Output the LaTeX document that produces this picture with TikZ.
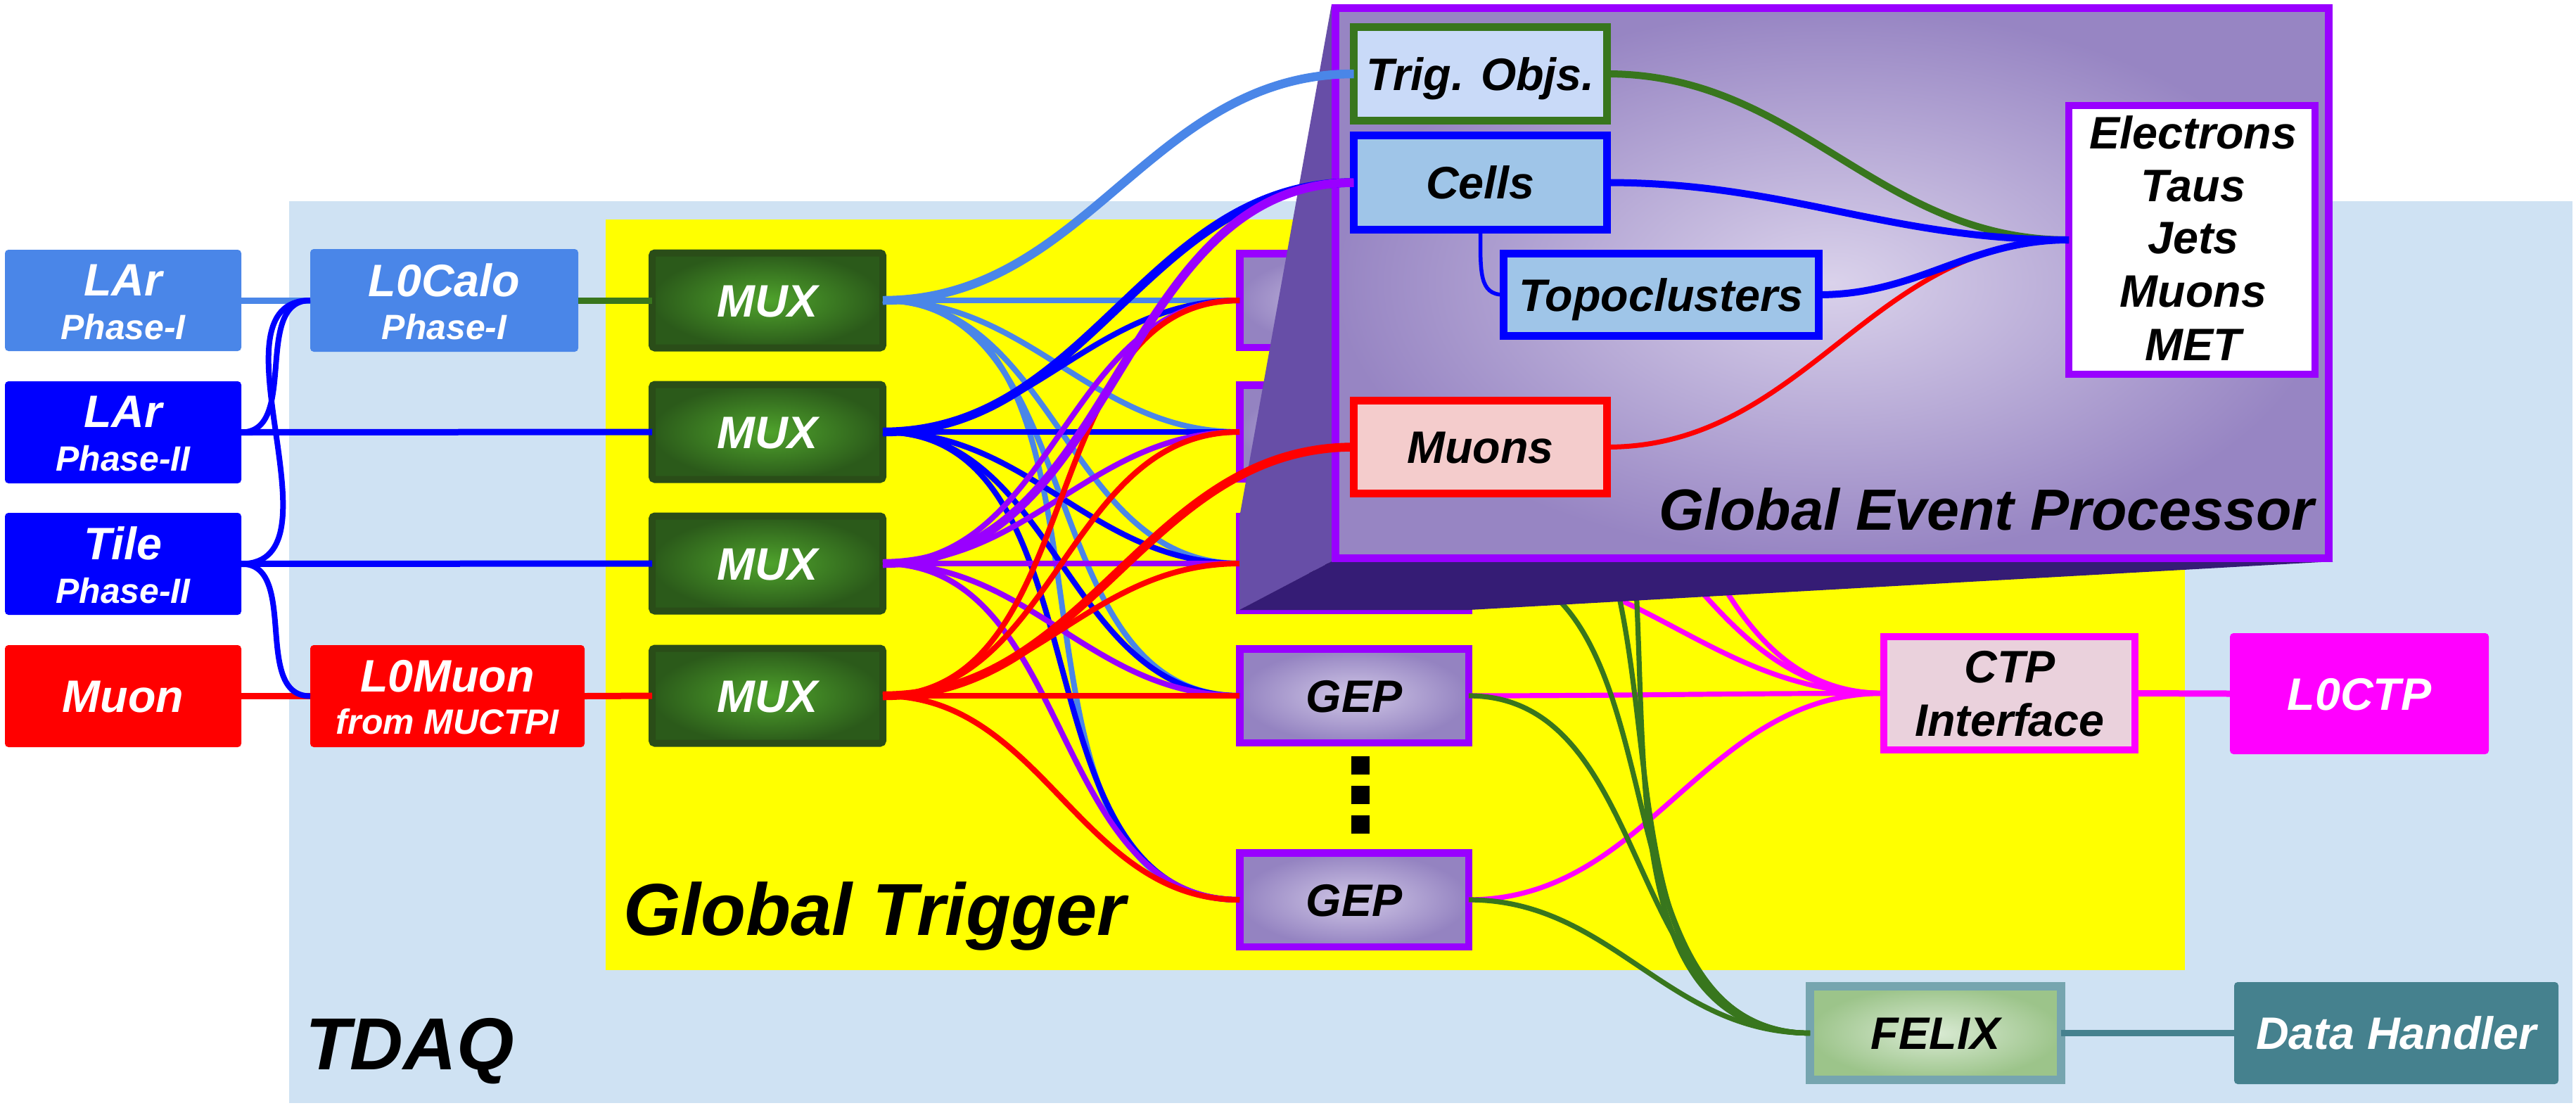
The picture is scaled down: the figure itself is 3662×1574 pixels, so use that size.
\documentclass[tikz,border=0pt]{standalone}
\usepackage{fontspec}
\setmainfont{Liberation Sans}
\newcommand\FntBig{\fontsize{18.4pt}{20pt}\selectfont\bfseries\itshape}
\newcommand\FntSmall{\fontsize{14.2pt}{16pt}\selectfont\bfseries\itshape}
\newcommand\FntHuge{\fontsize{29.8pt}{32pt}\selectfont\bfseries\itshape}
\newcommand\FntTitle{\fontsize{23.5pt}{26pt}\selectfont\bfseries\itshape}
\definecolor{cLB}{HTML}{4A86E8}
\definecolor{cB}{HTML}{0000FF}
\definecolor{cR}{HTML}{FF0000}
\definecolor{cV}{HTML}{9900FF}
\definecolor{cM}{HTML}{FF00FF}
\definecolor{cG}{HTML}{38761D}
\definecolor{cTDAQ}{HTML}{CFE2F3}
\definecolor{cY}{HTML}{FFFF00}
\definecolor{cTeal}{HTML}{45818E}
\definecolor{cFelixB}{HTML}{76A5AF}
\definecolor{cFelixIn}{HTML}{D9EAD3}
\definecolor{cFelixOut}{HTML}{9CC48A}
\definecolor{cMuxB}{HTML}{2A4D18}
\definecolor{cMuxIn}{HTML}{4FA32C}
\definecolor{cMuxOut}{HTML}{2B5A1A}
\definecolor{cGepIn}{HTML}{D0C7E6}
\definecolor{cGepOut}{HTML}{9483C1}
\definecolor{cFrontIn}{HTML}{DAD2EB}
\definecolor{cFrontOut}{HTML}{9785C3}
\definecolor{cSide}{HTML}{674EA7}
\definecolor{cBottom}{HTML}{351C75}
\definecolor{cTrigF}{HTML}{C9DAF8}
\definecolor{cCellF}{HTML}{9FC5E8}
\definecolor{cMuF}{HTML}{F4CCCC}
\definecolor{cCtpF}{HTML}{EAD1DC}
\tikzset{
  every node/.style={inner sep=0pt, outer sep=0pt},
  sz/.style 2 args={minimum width=#1mm, minimum height=#2mm},
  lab/.style={anchor=base, inner sep=0pt},
  srcbox/.style={rectangle, rounded corners=0.5mm, text=white, font=\FntBig, text height=13.2pt, text depth=0pt},
  muxbox/.style={rectangle, rounded corners=0.4mm, draw=cMuxB, line width=1mm, inner color=cMuxIn, outer color=cMuxOut, text=white, font=\FntBig, text height=13.2pt, text depth=0pt, sz={32.8}{13.5}},
  gepbox/.style={rectangle, draw=cV, line width=1.05mm, inner color=cGepIn, outer color=cGepOut, text=black, font=\FntBig, text height=13.2pt, text depth=0pt, sz={32.55}{13.35}},
  innerbox/.style={rectangle, line width=1.1mm, text=black, font=\FntBig, text height=13.2pt, text depth=0pt},
  conn/.style={line width=0.9mm},
  fan/.style={line width=0.8mm},
  thickc/.style={line width=1.25mm},
  gline/.style={line width=0.72mm},
}
\begin{document}
\begin{tikzpicture}[x=0.1mm, y=-0.1mm]
\fill[white] (0,0) rectangle (3662,1574);
\useasboundingbox (0,0) rectangle (3662,1574);
% backgrounds
\fill[cTDAQ] (411,286) rectangle (3657,1568);
\fill[cY] (861,312) rectangle (3106,1379);
\node[lab, font=\FntHuge, anchor=base west] (tdaqlbl) at (434,1520) {TDAQ};
\node[lab, font=\FntHuge, anchor=base west] (gtlbl) at (886,1329) {Global Trigger};

% source boxes
\node[srcbox, sz={33.6}{14.4}, fill=cLB] (lar1) at (175,427) {};
\node[lab, font=\FntBig, text=white] (lar1a) at (175,420) {LAr};
\node[lab, font=\FntSmall, text=white] (lar1b) at (175,482) {Phase-I};
\node[srcbox, sz={33.6}{14.5}, fill=cB] (lar2) at (175,614.5) {};
\node[lab, font=\FntBig, text=white] (lar2a) at (175,607) {LAr};
\node[lab, font=\FntSmall, text=white] (lar2b) at (175,669) {Phase-II};
\node[srcbox, sz={33.6}{14.5}, fill=cB] (tile) at (175,801.5) {};
\node[lab, font=\FntBig, text=white] (tilea) at (175,795) {Tile};
\node[lab, font=\FntSmall, text=white] (tileb) at (175,857) {Phase-II};
\node[srcbox, sz={33.6}{14.5}, fill=cR] (muon) at (175,989.5) {Muon};
\node[srcbox, sz={38.1}{14.6}, fill=cLB] (l0calo) at (631.5,427) {};
\node[lab, font=\FntBig, text=white] (l0caloa) at (631.5,421) {L0Calo};
\node[lab, font=\FntSmall, text=white] (l0calob) at (631.5,482) {Phase-I};
\node[srcbox, sz={39.0}{14.5}, fill=cR] (l0muon) at (636,989.5) {};
\node[lab, font=\FntBig, text=white] (l0muona) at (636,983) {L0Muon};
\node[lab, font=\FntSmall, text=white] (l0muonb) at (636,1043) {from MUCTPI};

% MUX
\node[muxbox] (mux1) at (1091,427) {MUX};
\node[muxbox] (mux2) at (1091,614) {MUX};
\node[muxbox] (mux3) at (1091,801) {MUX};
\node[muxbox] (mux4) at (1091,989) {MUX};

% GEP boxes
\node[gepbox] (gep1) at (1925,427) {GEP};
\node[gepbox] (gep2) at (1925,614) {GEP};
\node[gepbox] (gep3) at (1925,801) {GEP};
\node[gepbox] (gep4) at (1925,989) {GEP};
\node[gepbox] (gep5) at (1925,1279) {GEP};
\node[fill=black, sz={2.6}{2.55}] (dot1) at (1934,1088) {};
\node[fill=black, sz={2.6}{2.55}] (dot2) at (1934,1130) {};
\node[fill=black, sz={2.6}{2.55}] (dot3) at (1934,1172) {};

% CTP, FELIX etc
\node[rectangle, draw=cM, line width=1mm, fill=cCtpF, sz={35.7}{16.1}] (ctp) at (2856.5,985.5) {};
\node[lab, font=\FntBig] (ctpa) at (2857,970) {CTP};
\node[lab, font=\FntBig] (ctpb) at (2857,1046) {Interface};
\node[srcbox, fill=cM, sz={36.8}{17.2}] (l0ctp) at (3354,986) {L0CTP};
\node[rectangle, draw=cFelixB, line width=1.2mm, inner color=cFelixIn, outer color=cFelixOut, sz={35.7}{13.3}, font=\FntBig, text height=13.2pt, text depth=0pt] (felix) at (2751.5,1468.5) {FELIX};
\node[srcbox, fill=cTeal, sz={46.1}{14.5}] (dh) at (3406.5,1468.5) {Data Handler};

% left connectors
\draw[conn, cLB] (lar1.east) -- (l0calo.west);
\draw[conn, cB] (lar2.east) -- (mux2.west);
\draw[conn, cB] (tile.east) -- (mux3.west);
\draw[conn, cR] (muon.east) -- (l0muon.west);
\draw[conn, cG] (l0calo.east) -- (mux1.west);
\draw[conn, cR] (l0muon.east) -- (mux4.west);
\draw[fan, cB] (lar2.east) to[out=0,in=180] (l0calo.west);
\draw[fan, cB] (tile.east) to[out=0,in=180] (l0calo.west);
\draw[fan, cB] (tile.east) to[out=0,in=180] (l0muon.west);

% MUX to GEP fans
\foreach \m/\c in {1/cLB,2/cB,3/cV,4/cR}{
  \foreach \g in {1,...,5}{
    \draw[fan, draw=\c] (mux\m.east) to[out=0,in=180] (gep\g.west);
  }
}

% GEP outputs
\foreach \g in {1,...,5}{
  \draw[gline, cM] (gep\g.east) to[out=0,in=180] (ctp.west);
}
\foreach \g in {1,...,5}{
  \draw[gline, cG] (gep\g.east) to[out=0,in=180] (felix.west);
}
\draw[conn, cM] (ctp.east) -- (l0ctp.west);
\draw[conn, cTeal] (felix.east) -- (dh.west);

% 3D Global Event Processor
\fill[cSide] (1762,735) -- (1893,6) -- (1893,798) -- (1762,867) -- cycle;
\fill[cBottom] (1762,867) -- (1893,798) -- (3317,798) -- (2088,867) -- cycle;
\draw[draw=cV, line width=1.1mm, inner color=cFrontIn, outer color=cFrontOut] (1898.5,11) rectangle (3310.5,793);
\node[lab, font=\FntTitle, anchor=base east] (geplbl) at (3290,753) {Global Event Processor};

\node[innerbox, draw=cG, fill=cTrigF, sz={36.0}{13.3}] (trig) at (2104.5,105) {Trig. Objs.};
\node[innerbox, draw=cB, fill=cCellF, sz={36.0}{13.4}] (cells) at (2104.5,259.5) {Cells};
\node[innerbox, draw=cB, fill=cCellF, sz={44.8}{11.7}] (topo) at (2361.5,419) {Topoclusters};
\node[innerbox, draw=cR, fill=cMuF, sz={36.0}{13.2}] (muonsg) at (2104.5,635.5) {Muons};
\node[rectangle, draw=cV, line width=1mm, fill=white, sz={35.0}{38.2}] (elec) at (3116,341) {};
\node[lab, font=\FntBig] (eleca) at (3118,211) {Electrons};
\node[lab, font=\FntBig] (elecb) at (3118,286) {Taus};
\node[lab, font=\FntBig] (elecc) at (3118,360) {Jets};
\node[lab, font=\FntBig] (elecd) at (3118,436) {Muons};
\node[lab, font=\FntBig] (elece) at (3118,512) {MET};

% inner connectors
\draw[line width=0.55mm, cB] (cells.south) .. controls +(0,60) and +(-35,0) .. (topo.west);
\draw[line width=1mm, cG] (trig.east) to[out=0,in=180] (elec.west);
\draw[line width=1mm, cB] (cells.east) to[out=0,in=180] (elec.west);
\draw[line width=0.7mm, cR] (muonsg.east) to[out=0,in=180] (elec.west);
\draw[line width=1mm, cB] (topo.east) to[out=0,in=180] (elec.west);

% MUX to 3D inner nodes
\draw[thickc, cLB] (mux1.east) to[out=0,in=180] (trig.west);
\draw[thickc, cB] (mux2.east) to[out=0,in=180] (cells.west);
\draw[thickc, cV] (mux3.east) to[out=0,in=180] (cells.west);
\draw[thickc, cR] (mux4.east) to[out=0,in=180] (muonsg.west);
\end{tikzpicture}
\end{document}
